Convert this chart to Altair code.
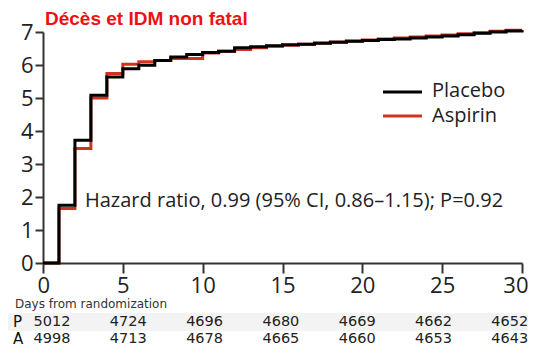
import altair as alt
import pandas as pd

days = list(range(0, 31))
placebo = [0, 1.75, 3.72, 5.08, 5.64, 5.89, 5.99, 6.14, 6.24, 6.32, 6.38, 6.42, 6.52, 6.55,
           6.58, 6.61, 6.63, 6.66, 6.69, 6.72, 6.74, 6.77, 6.79, 6.82, 6.85, 6.88, 6.92, 6.96,
           7.00, 7.03, 7.05]
aspirin = [0, 1.65, 3.47, 5.00, 5.74, 6.02, 6.10, 6.14, 6.20, 6.20, 6.36, 6.42, 6.47, 6.52,
           6.57, 6.60, 6.63, 6.67, 6.70, 6.73, 6.76, 6.79, 6.82, 6.85, 6.88, 6.91, 6.95, 6.98,
           7.02, 7.05, 7.07]

table_cols = [0, 1, 2, 3, 4, 5, 6]
at_risk_p = ["5012", "4724", "4696", "4680", "4669", "4662", "4652"]
at_risk_a = ["4998", "4713", "4678", "4665", "4660", "4653", "4643"]

df = pd.DataFrame({
    "day": days * 2,
    "value": placebo + aspirin,
    "group": ["Placebo"] * len(days) + ["Aspirin"] * len(days),
})
df_p = df[df.group == "Placebo"]
df_a = df[df.group == "Aspirin"]

FONT = "Open Sans"
xscale = alt.Scale(domain=[0, 30], nice=False, zero=False)
yscale = alt.Scale(domain=[0, 7], nice=False)

xaxis = alt.Axis(values=[0, 5, 10, 15, 20, 25, 30], title=None, grid=False,
                 labelFontSize=22, labelFont=FONT, labelColor="#222",
                 tickSize=10, tickWidth=2, tickColor="#333",
                 domainWidth=2, domainColor="#333", labelPadding=2,
                 labelFlush=True, labelFlushOffset=6)
yaxis = alt.Axis(values=[0, 1, 2, 3, 4, 5, 6, 7], title=None, grid=False,
                 labelFontSize=22, labelFont=FONT, labelColor="#222",
                 tickSize=8, tickWidth=2, tickColor="#333",
                 domainWidth=2, domainColor="#333", labelPadding=2)

red_line = alt.Chart(df_a).mark_line(interpolate="step-after", color="#d0341f", strokeWidth=3).encode(
    x=alt.X("day:Q", scale=xscale, axis=xaxis),
    y=alt.Y("value:Q", scale=yscale, axis=yaxis),
)
black_line = alt.Chart(df_p).mark_line(interpolate="step-after", color="#000000", strokeWidth=3).encode(
    x=alt.X("day:Q", scale=xscale, axis=xaxis),
    y=alt.Y("value:Q", scale=yscale, axis=yaxis),
)

one = pd.DataFrame({"a": [0]})

def txt(text, x, y, size, color="#222", weight="normal", font=FONT, align="left"):
    return alt.Chart(one).mark_text(text=text, align=align, baseline="middle", fontSize=size,
                                    font=font, color=color, fontWeight=weight).encode(
        x=alt.value(x), y=alt.value(y))

title = alt.Chart(one).mark_text(text="Décès et IDM non fatal", align="left", baseline="alphabetic",
                                 fontSize=19, font="Liberation Sans", fontWeight="bold",
                                 color="#ee1111").encode(x=alt.value(2), y=alt.value(-7))

leg_p = alt.Chart(one).mark_rule(color="#000000", strokeWidth=3).encode(
    x=alt.value(340), x2=alt.value(379), y=alt.value(60))
leg_a = alt.Chart(one).mark_rule(color="#d0341f", strokeWidth=3).encode(
    x=alt.value(340), x2=alt.value(379), y=alt.value(84))
leg_pt = txt("Placebo", 389, 59, 20)
leg_at = txt("Aspirin", 389, 84, 20)

hr = txt("Hazard ratio, 0.99 (95% CI, 0.86–1.15); P=0.92", 42, 169, 20)

band = alt.Chart(one).mark_rect(color="#f3f3f3").encode(
    x=alt.value(-35), x2=alt.value(485), y=alt.value(281), y2=alt.value(299))

days_lbl = txt("Days from randomization", -28, 272, 12, color="#333", font="DejaVu Sans")
p_lbl = txt("P", -30, 290, 15, color="#111", font="DejaVu Sans")
a_lbl = txt("A", -30, 307, 15, color="#111", font="DejaVu Sans")

tscale = alt.Scale(domain=[-0.118, 6.160], nice=False, zero=False)
tab_p = alt.Chart(pd.DataFrame({"col": table_cols, "n": at_risk_p})).mark_text(
    fontSize=14.5, font="DejaVu Sans", color="#222", align="center", baseline="middle").encode(
    x=alt.X("col:Q", scale=tscale, axis=None), y=alt.value(290), text="n:N")
tab_a = alt.Chart(pd.DataFrame({"col": table_cols, "n": at_risk_a})).mark_text(
    fontSize=14.5, font="DejaVu Sans", color="#222", align="center", baseline="middle").encode(
    x=alt.X("col:Q", scale=tscale, axis=None), y=alt.value(307), text="n:N")

main = alt.layer(red_line, black_line, title, leg_p, leg_a, leg_pt, leg_at, hr)

chart = alt.layer(band, main, days_lbl, p_lbl, a_lbl, tab_p, tab_a).resolve_scale(x="independent").properties(
    width=479, height=231,
    autosize=alt.AutoSizeParams(type="none"),
    padding={"left": 35, "top": 24, "right": 6, "bottom": 87},
).configure_view(stroke=None)

chart.save("out.html", embed_options={"renderer": "svg", "actions": False})
